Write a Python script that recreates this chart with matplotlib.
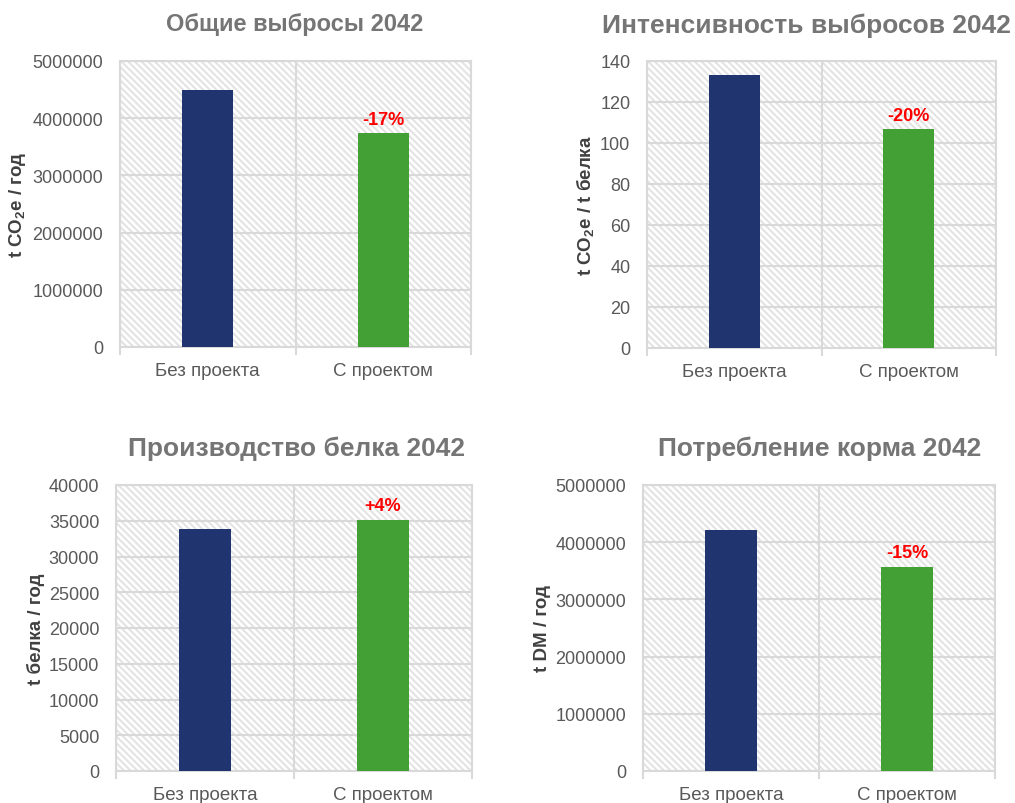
import matplotlib
matplotlib.use("Agg")
import matplotlib.pyplot as plt
from matplotlib.patches import Rectangle
from matplotlib.ticker import MultipleLocator, FixedLocator, FormatStrFormatter

plt.rcParams['font.family'] = ['Liberation Sans', 'DejaVu Sans']
plt.rcParams['mathtext.fontset'] = 'custom'
plt.rcParams['mathtext.rm'] = 'Liberation Sans:bold'
plt.rcParams['mathtext.it'] = 'Liberation Sans:bold'
plt.rcParams['mathtext.bf'] = 'Liberation Sans:bold'
plt.rcParams['hatch.linewidth'] = 1.4

categories = ["Без проекта", "С проектом"]

emissions = [4490000, 3740000]
intensity = [133.2, 106.8]
protein = [33850, 35100]
feed = [4210000, 3570000]

titles = ["Общие выбросы 2042", "Интенсивность выбросов 2042",
          "Производство белка 2042", "Потребление корма 2042"]
ylabels = [r"t CO$_\mathregular{2}$e / год", r"t CO$_\mathregular{2}$e / t белка",
           "t белка / год", "t DM / год"]
changes = ["-17%", "-20%", "+4%", "-15%"]
ymax = [5000000, 140, 40000, 5000000]
ystep = [1000000, 20, 5000, 1000000]

series = [emissions, intensity, protein, feed]
colors = ["#203570", "#43a035"]

GRID = "#d9d9d9"
TICK = "#595959"
TITLE = "#757575"

W, H = 1015, 804
fig = plt.figure(figsize=(W / 100, H / 100), dpi=100)

# axes boxes in pixels: left, right, top, bottom
boxes = [(120, 471, 62, 348), (647, 996, 62, 349),
         (116, 472, 486, 772), (643, 995, 486, 772)]

for i, (l, r, t, b) in enumerate(boxes):
    ax = fig.add_axes([l / W, 1 - b / H, (r - l) / W, (b - t) / H])
    ax.set_facecolor("white")
    bg = Rectangle((0, 0), 1, 1, transform=ax.transAxes, facecolor="white",
                   edgecolor="#e2e2e2", hatch="\\" * 5, linewidth=0, zorder=0)
    ax.add_patch(bg)
    ax.set_xlim(-0.5, 1.5)
    ax.set_ylim(0, ymax[i])
    ax.yaxis.set_major_locator(MultipleLocator(ystep[i]))
    ax.yaxis.set_major_formatter(FormatStrFormatter("%d"))
    ax.grid(axis="y", color=GRID, linewidth=1.5, zorder=1)
    ax.set_axisbelow(True)
    ax.xaxis.set_minor_locator(FixedLocator([-0.5, 0.5, 1.5]))
    ax.set_xticks([0, 1])
    ax.set_xticklabels(categories)
    ax.grid(axis="x", which="minor", color=GRID, linewidth=1.5, zorder=1)
    ax.tick_params(axis="x", which="major", length=0, pad=11, labelsize=13.5, labelcolor=TICK)
    ax.tick_params(axis="x", which="minor", length=6, width=1.5, color=GRID)
    ax.tick_params(axis="y", length=0, pad=12, labelsize=13, labelcolor=TICK)
    for s in ax.spines.values():
        s.set_color(GRID)
        s.set_linewidth(1.5)

    ax.bar([0, 1], series[i], width=0.29, color=colors, zorder=3)
    ax.annotate(changes[i], (1, series[i][1]), xytext=(0, 4),
                textcoords="offset points", ha="center", va="bottom",
                color="#ff0000", fontsize=13, fontweight="bold", zorder=4)
    ax.set_ylabel(ylabels[i], fontsize=13.5, fontweight="bold", color="#404040",
                  labelpad=3)

# titles
fig.text(295 / W, 1 - 25 / H, titles[0], ha="center", va="center",
         fontsize=17, fontweight="bold", color=TITLE)
fig.text(1011 / W, 1 - 26 / H, titles[1], ha="right", va="center",
         fontsize=19, fontweight="bold", color=TITLE)
fig.text(296 / W, 1 - 449 / H, titles[2], ha="center", va="center",
         fontsize=19, fontweight="bold", color=TITLE)
fig.text(820 / W, 1 - 449 / H, titles[3], ha="center", va="center",
         fontsize=19, fontweight="bold", color=TITLE)

fig.savefig("out.png", dpi=100)
